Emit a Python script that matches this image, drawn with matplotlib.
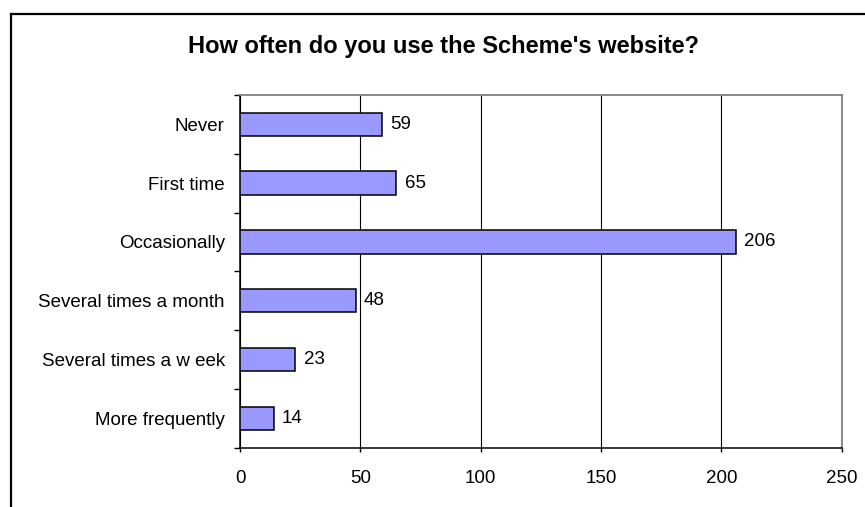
import matplotlib
matplotlib.use("Agg")
import matplotlib.pyplot as plt
from matplotlib.lines import Line2D
import numpy as np

plt.rcParams['font.family'] = ['Liberation Sans', 'DejaVu Sans']

# data
categories = ["Never", "First time", "Occasionally", "Several times a month",
              "Several times a w eek", "More frequently"]
counts = [59, 65, 206, 48, 23, 14]
xticks = [0, 50, 100, 150, 200, 250]

fig = plt.figure(figsize=(8.65, 5.07), dpi=100)
ax = fig.add_axes([0.2775, 0.117, 0.6956, 0.6956])

y = np.arange(len(categories))
ax.barh(y, counts, height=0.4, color='#9999FF', edgecolor='black', linewidth=1.1, zorder=3)

for yi, v in zip(y, counts):
    ax.annotate(str(v), (v, yi), xytext=(6, 0), textcoords='offset points',
                va='center', ha='left', fontsize=13.5)

ax.set_xlim(0, 250)
ax.set_ylim(len(categories) - 0.5, -0.5)
ax.set_xticks(xticks)
ax.set_xticklabels([str(t) for t in xticks], fontsize=13.5)
ax.set_yticks(y)
ax.set_yticklabels(categories, fontsize=13.5)
ax.tick_params(axis='y', which='major', length=0, pad=11)
ax.set_yticks(np.arange(len(categories) + 1) - 0.5, minor=True)
ax.tick_params(axis='y', which='minor', length=4, width=1, direction='out')
ax.tick_params(axis='x', length=3, width=1, direction='out', pad=13)

ax.grid(axis='x', color='black', linewidth=0.8, zorder=0)
ax.set_axisbelow(True)
for side in ['top', 'right']:
    ax.spines[side].set_color('#808080')
    ax.spines[side].set_linewidth(1.3)
for side in ['left', 'bottom']:
    ax.spines[side].set_color('black')
    ax.spines[side].set_linewidth(1.1)

fig.text(0.5127, 1 - 53 / 507, "How often do you use the Scheme's website?",
         ha='center', va='baseline', fontsize=17, fontweight='bold')

# outer chart frame (cut off at the right and bottom)
fx = 11 / 865
fy = 1 - 14 / 507
fig.add_artist(Line2D([fx, 1.0], [fy, fy], color='black', linewidth=1.6, transform=fig.transFigure))
fig.add_artist(Line2D([fx, fx], [0.0, fy], color='black', linewidth=1.6, transform=fig.transFigure))

fig.savefig("out.png", dpi=100)
